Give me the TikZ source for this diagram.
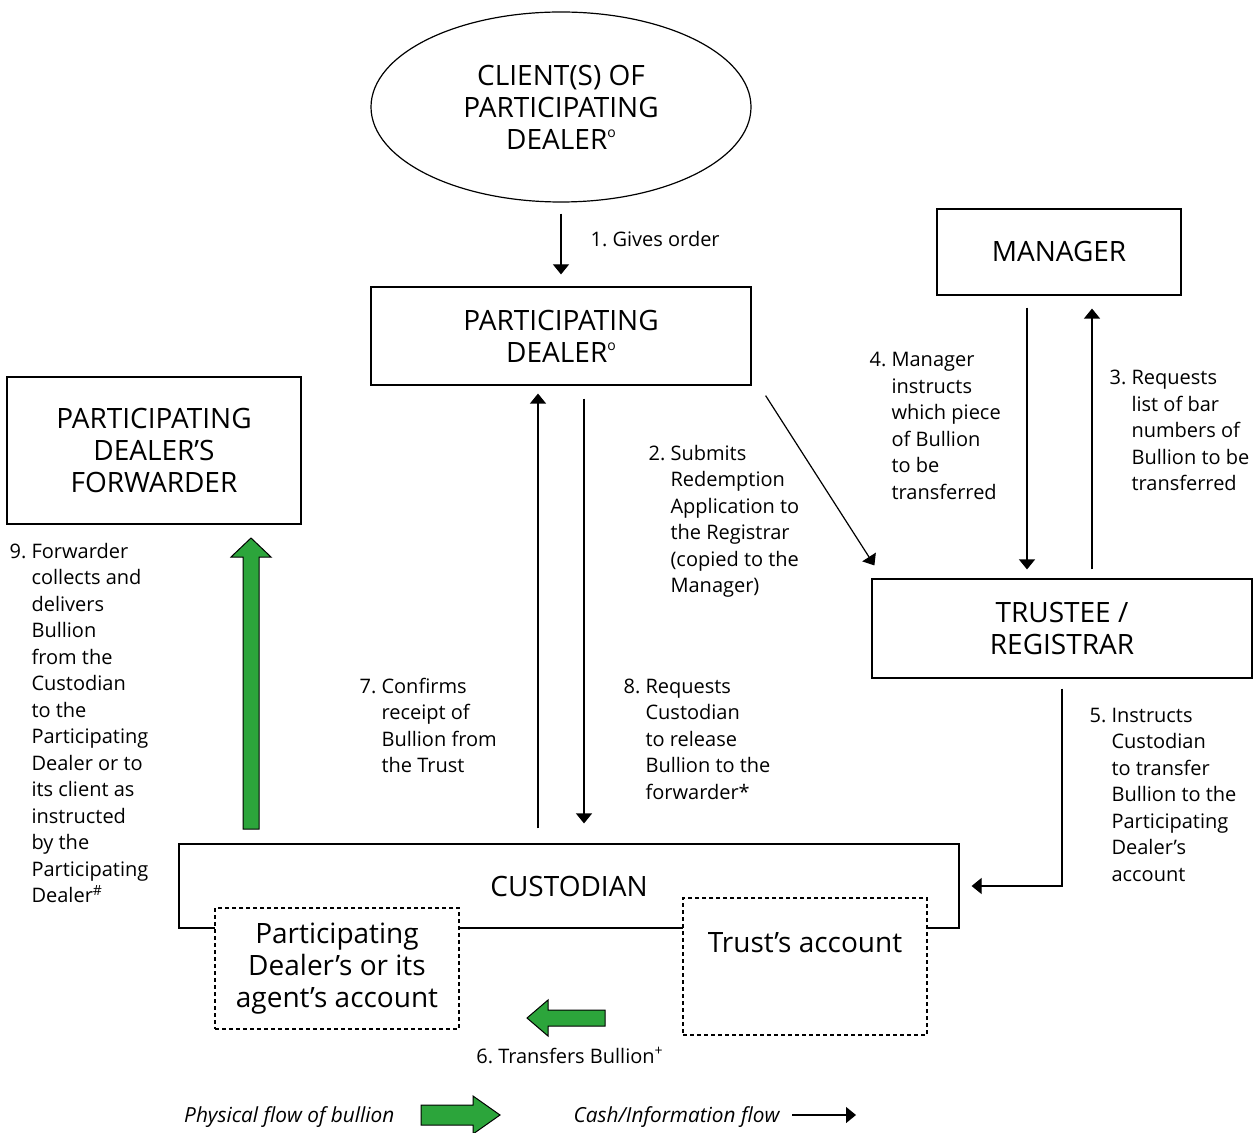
\documentclass[tikz,border=0pt]{standalone}
\usepackage{fontspec}
\setmainfont{Open Sans}
\usetikzlibrary{shapes.geometric,arrows.meta}
\definecolor{bullion}{RGB}{44,165,59}
\frenchspacing
\newcommand{\boxfont}{\fontsize{14}{16}\selectfont}
\newcommand{\notefont}{\fontsize{10}{13.25}\selectfont}
\newcommand{\supo}{\raisebox{0.75ex}{\fontsize{7}{7}\selectfont o}}
\newcommand{\steptext}[2]{#1~\begin{tabular}[t]{@{}l@{}}#2\end{tabular}}

\begin{document}
\begin{tikzpicture}[x=0.5pt, y=-0.5pt, line width=0.6pt, >={Triangle[width=8pt,length=5pt]},
	party/.style={draw, align=center, font=\boxfont, inner sep=0pt},
	acct/.style={draw, dashed, dash pattern=on 2pt off 1.5pt, fill=white, align=center, font=\boxfont, inner sep=0pt},
	flow/.style={->},
	note/.style={anchor=base west, inner sep=0pt, font=\notefont},
	bulk/.style={draw=black, fill=bullion, line width=0.5pt}]
	\useasboundingbox (0,0) rectangle (1256,1133);

	% The parties
	\node[party, ellipse, minimum width=190pt, minimum height=95pt] (client) at (561,107) {CLIENT(S) OF\\PARTICIPATING\\DEALER\supo};
	\node[party, minimum width=190pt, minimum height=49pt] (pd) at (561,336) {PARTICIPATING\\DEALER\supo};
	\node[party, minimum width=147pt, minimum height=73.5pt] (fwd) at (154,450.5) {PARTICIPATING\\DEALER’S\\FORWARDER};
	\node[party, minimum width=122pt, minimum height=43pt] (manager) at (1059,252) {MANAGER};
	\node[party, minimum width=190pt, minimum height=49.5pt] (trustee) at (1062,628.5) {TRUSTEE /\\REGISTRAR};
	\node[party, minimum width=390pt, minimum height=42pt] (cust) at (569,886) {CUSTODIAN};

	% Accounts held at the custodian
	\node[acct, minimum width=122pt, minimum height=60.5pt] (pdacct) at (337,968.5) {Participating\\Dealer’s or its\\agent’s account};
	\node[acct, minimum width=122pt, minimum height=68.5pt,
		label={[anchor=base, inner sep=0pt, yshift=-27.5pt, font=\boxfont]north:Trust’s account}] (trustacct) at (805,966.5) {};

	% x positions of the vertical connectors
	\coordinate (x7) at (538,0);
	\coordinate (x8) at (584,0);
	\coordinate (x4) at (1027,0);
	\coordinate (x3) at (1092,0);

	% Cash / information flow
	\draw[flow, shorten <=5.5pt, shorten >=6pt] (client) -- (pd);
	\draw[flow] ([shift={(14,10)}]pd.south east) -- ([shift={(3,-13)}]trustee.north west);
	\draw[flow, shorten <=4.5pt, shorten >=6.5pt] (trustee.north -| x3) -- (manager.south -| x3);
	\draw[flow, shorten <=6pt, shorten >=4.5pt] (manager.south -| x4) -- (trustee.north -| x4);
	\draw[flow, shorten <=5pt, shorten >=6pt] (trustee.south) |- (cust.east);
	\draw[flow, shorten <=7.5pt, shorten >=4pt] (cust.north -| x7) -- (pd.south -| x7);
	\draw[flow, shorten <=6.5pt, shorten >=10pt] (pd.south -| x8) -- (cust.north -| x8);

	% Physical flow of bullion
	\draw[bulk] (605,1010) -- (548,1010) -- (548,1000) -- (527,1018) -- (548,1036) -- (548,1026) -- (605,1026) -- cycle;
	\draw[bulk] (243,829) -- (243,557) -- (231,557) -- (251,538) -- (271,557) -- (259,557) -- (259,829) -- cycle;

	% Step labels
	\node[note] (lbl1) at (590,247) {1. Gives order};
	\node[note] (lbl2) at (648,460) {\steptext{2.}{Submits\\Redemption\\Application to\\the Registrar\\(copied to the\\Manager)}};
	\node[note] (lbl3) at (1109,385) {\steptext{3.}{Requests\\list of bar\\numbers of\\Bullion to be\\transferred}};
	\node[note] (lbl4) at (869,367) {\steptext{4.}{Manager\\instructs\\which piece\\of Bullion\\to be\\transferred}};
	\node[note] (lbl5) at (1089,722) {\steptext{5.}{Instructs\\Custodian\\to transfer\\Bullion to the\\Participating\\Dealer’s\\account}};
	\node[note, anchor=base] (lbl6) at (570,1063) {6. Transfers Bullion\textsuperscript{+}};
	\node[note] (lbl7) at (359,693) {\steptext{7.}{Confirms\\receipt of\\Bullion from\\the Trust}};
	\node[note] (lbl8) at (623,693) {\steptext{8.}{Requests\\Custodian\\to release\\Bullion to the\\forwarder*}};
	\node[note] (lbl9) at (9,558) {\steptext{9.}{Forwarder\\collects and\\delivers\\Bullion\\from the\\Custodian\\to the\\Participating\\Dealer or to\\its client as\\instructed\\by the\\Participating\\Dealer\textsuperscript{\#}}};

	% Legend
	\node[note, anchor=base east, font=\fontsize{10.4}{12}\selectfont\itshape] (physical) at (395,1122) {Physical flow of bullion};
	\draw[bulk] (421,1105) -- (473,1105) -- (473,1096) -- (500,1115) -- (473,1134) -- (473,1125) -- (421,1125) -- cycle;
	\node[note, anchor=base east, font=\fontsize{10.4}{12}\selectfont\itshape] (cash) at (780,1122) {Cash/Information flow};
	\coordinate (cashend) at (856,1115);
	\draw[flow] ([xshift=6pt]cash.east |- cashend) -- (cashend);
\end{tikzpicture}
\end{document}
